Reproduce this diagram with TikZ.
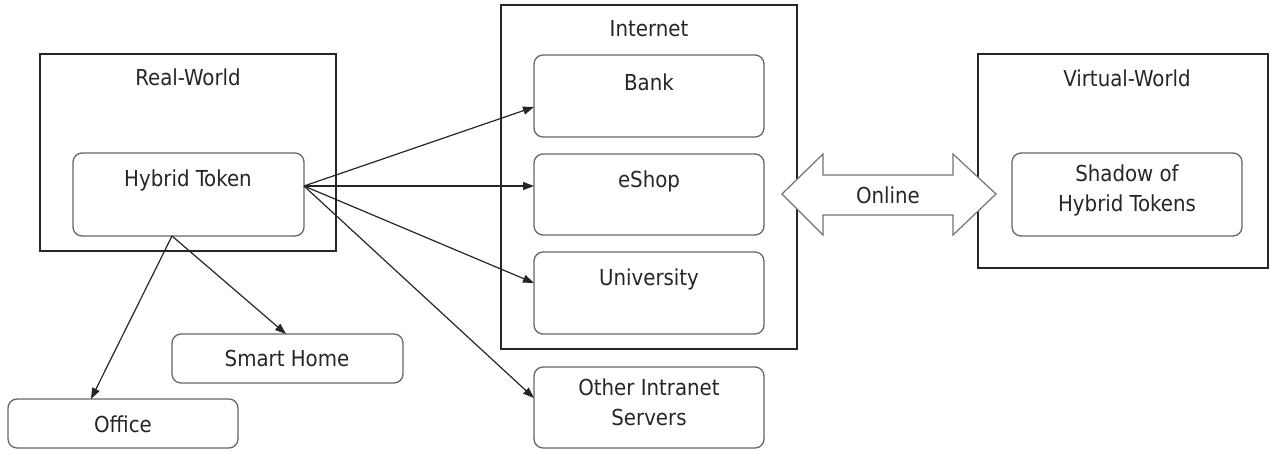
\documentclass[tikz,border=0pt]{standalone}
\usepackage{fontspec}
\setmainfont{DejaVu Sans Condensed}
\usetikzlibrary{arrows.meta}
\tikzset{
  world/.style={draw=black!85, line width=1.2pt, rectangle, inner sep=0pt, outer sep=0pt, anchor=north west},
  unit/.style={draw=black!60, line width=1.3pt, rounded corners=9pt, inner sep=0pt, outer sep=0pt, anchor=north west},
  caption/.style={font=\fontsize{22}{30}\selectfont, text=black!85, inner sep=0pt, align=center},
  conn/.style={draw=black!85, line width=1.2pt, -{Triangle[length=11pt,width=8pt]}},
}
\begin{document}
\begin{tikzpicture}[x=1pt,y=-1pt]
\useasboundingbox (0,0) rectangle (1271,450);

% Real world
\node[world, minimum width=296pt, minimum height=197pt] (rw) at (40,54) {};
\node[caption] (rwt) at (188,77) {Real-World};
\node[unit, minimum width=231pt, minimum height=83pt] (ht) at (73,153) {};
\node[caption] (htt) at (188,180) {Hybrid Token};
\node[unit, minimum width=231pt, minimum height=49pt] (sh) at (172,334) {};
\node[caption] (sht) at (287,358) {Smart Home};
\node[unit, minimum width=230pt, minimum height=49pt] (of) at (8,399) {};
\node[caption] (oft) at (123,424) {Office};

% Internet
\node[world, minimum width=296pt, minimum height=344pt] (inet) at (501,5) {};
\node[caption] (inett) at (649,29) {Internet};
\node[unit, minimum width=230pt, minimum height=82pt] (bank) at (534,55) {};
\node[caption] (bankt) at (649,82) {Bank};
\node[unit, minimum width=230pt, minimum height=81pt] (eshop) at (534,154) {};
\node[caption] (eshopt) at (649,181) {eShop};
\node[unit, minimum width=230pt, minimum height=82pt] (uni) at (534,252) {};
\node[caption] (unit) at (649,279) {University};
\node[unit, minimum width=230pt, minimum height=81pt] (oth) at (534,367) {};
\node[caption] (otht) at (649,402) {Other Intranet\\Servers};

% Virtual world
\node[world, minimum width=290pt, minimum height=214pt] (vw) at (978,54) {};
\node[caption] (vwt) at (1127,78) {Virtual-World};
\node[unit, minimum width=230pt, minimum height=83pt] (sd) at (1012,153) {};
\node[caption] (sdt) at (1127,190) {Shadow of\\Hybrid Tokens};

% Online link between Internet and Virtual-World
\draw[draw=black!55, line width=1.2pt, fill=white]
  (782,194) -- (823,154) -- (823,175) -- (953,175) -- (953,154) -- (996,194)
  -- (953,235) -- (953,215) -- (823,215) -- (823,235) -- cycle;
\node[caption] (online) at (888,195) {Online};

% Connectors from the hybrid token
\coordinate (htR) at (304,186);
\coordinate (htB) at (172,236);
\coordinate (bankIn) at (534,107);
\coordinate (eshopIn) at (534,186);
\coordinate (uniIn) at (534,283);
\coordinate (othIn) at (534,398);
\coordinate (shIn) at (286,334);
\coordinate (ofIn) at (91,399);

\draw[conn] (htR) -- (bankIn);
\draw[conn] (htR) -- (eshopIn);
\draw[conn] (htR) -- (uniIn);
\draw[conn] (htR) -- (othIn);
\draw[conn] (htB) -- (shIn);
\draw[conn] (htB) -- (ofIn);
\end{tikzpicture}
\end{document}
